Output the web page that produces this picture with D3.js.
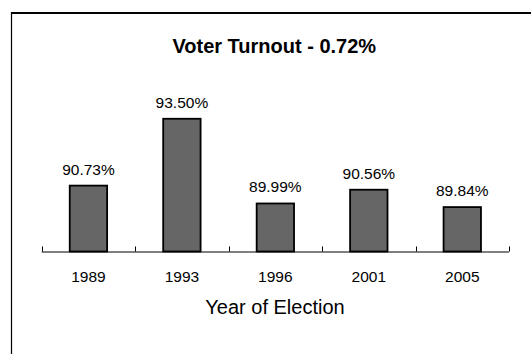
<!DOCTYPE html>
<html>
<head>
<meta charset="utf-8">
<script src="https://cdn.jsdelivr.net/npm/d3@7"></script>
<style>
html,body{margin:0;padding:0;background:#fff;}
svg{display:block;}
text{font-family:"Liberation Sans",Arial,sans-serif;fill:#000;}
</style>
</head>
<body>
<svg id="chart" width="531" height="354"></svg>
<script>
const years = ["1989", "1993", "1996", "2001", "2005"];
const turnout = [90.73, 93.50, 89.99, 90.56, 89.84];
const valueLabels = ["90.73%", "93.50%", "89.99%", "90.56%", "89.84%"];
const chartTitle = "Voter Turnout - 0.72%";
const xTitle = "Year of Election";
const yDomain = [88, 94];

const svg = d3.select("#chart");

// frame
svg.append("line").attr("x1", 11).attr("x2", 531).attr("y1", 13).attr("y2", 13)
  .attr("stroke", "#000").attr("stroke-width", 2);
svg.append("line").attr("x1", 11.5).attr("x2", 11.5).attr("y1", 12).attr("y2", 354)
  .attr("stroke", "#000").attr("stroke-width", 1.2);

const x = d3.scaleBand().domain(years).range([41.7, 509])
  .paddingInner(0.6).paddingOuter(0.3);
const y = d3.scaleLinear().domain(yDomain).range([251.5, 106.7]);

const data = years.map((yr, i) => ({yr, v: turnout[i], lab: valueLabels[i]}));

// bars
svg.append("g").selectAll("rect").data(data).join("rect")
  .attr("x", d => x(d.yr))
  .attr("y", d => y(d.v))
  .attr("width", x.bandwidth())
  .attr("height", d => y(yDomain[0]) - y(d.v))
  .attr("fill", "#666666")
  .attr("stroke", "#000")
  .attr("stroke-width", 1.8);

// value labels
svg.append("g").selectAll("text").data(data).join("text")
  .attr("x", d => x(d.yr) + x.bandwidth() / 2)
  .attr("y", d => y(d.v) - 11)
  .attr("text-anchor", "middle")
  .attr("font-size", "15.5px")
  .text(d => d.lab);

// axis line + ticks at category boundaries
const axisY = y(yDomain[0]);
const step = x.step();
const x0 = x.range()[0];
svg.append("line").attr("x1", x0).attr("x2", x.range()[1])
  .attr("y1", axisY + 0.5).attr("y2", axisY + 0.5)
  .attr("stroke", "#000").attr("stroke-width", 1);
const boundaries = d3.range(years.length + 1).map(i => x0 + i * step);
svg.append("g").selectAll("line").data(boundaries).join("line")
  .attr("x1", d => Math.round(d) + 0.5).attr("x2", d => Math.round(d) + 0.5)
  .attr("y1", axisY - 5).attr("y2", axisY)
  .attr("stroke", "#000").attr("stroke-width", 1);

// category labels
svg.append("g").selectAll("text").data(years).join("text")
  .attr("x", d => x(d) + x.bandwidth() / 2)
  .attr("y", 281.7)
  .attr("text-anchor", "middle")
  .attr("font-size", "15.5px")
  .text(d => d);

// axis title
svg.append("text").attr("x", 275).attr("y", 314.3)
  .attr("text-anchor", "middle").attr("font-size", "20px").text(xTitle);

// chart title
svg.append("text").attr("x", 274.3).attr("y", 53.3)
  .attr("text-anchor", "middle").attr("font-size", "20px").attr("font-weight", "bold")
  .text(chartTitle);
</script>
</body>
</html>
